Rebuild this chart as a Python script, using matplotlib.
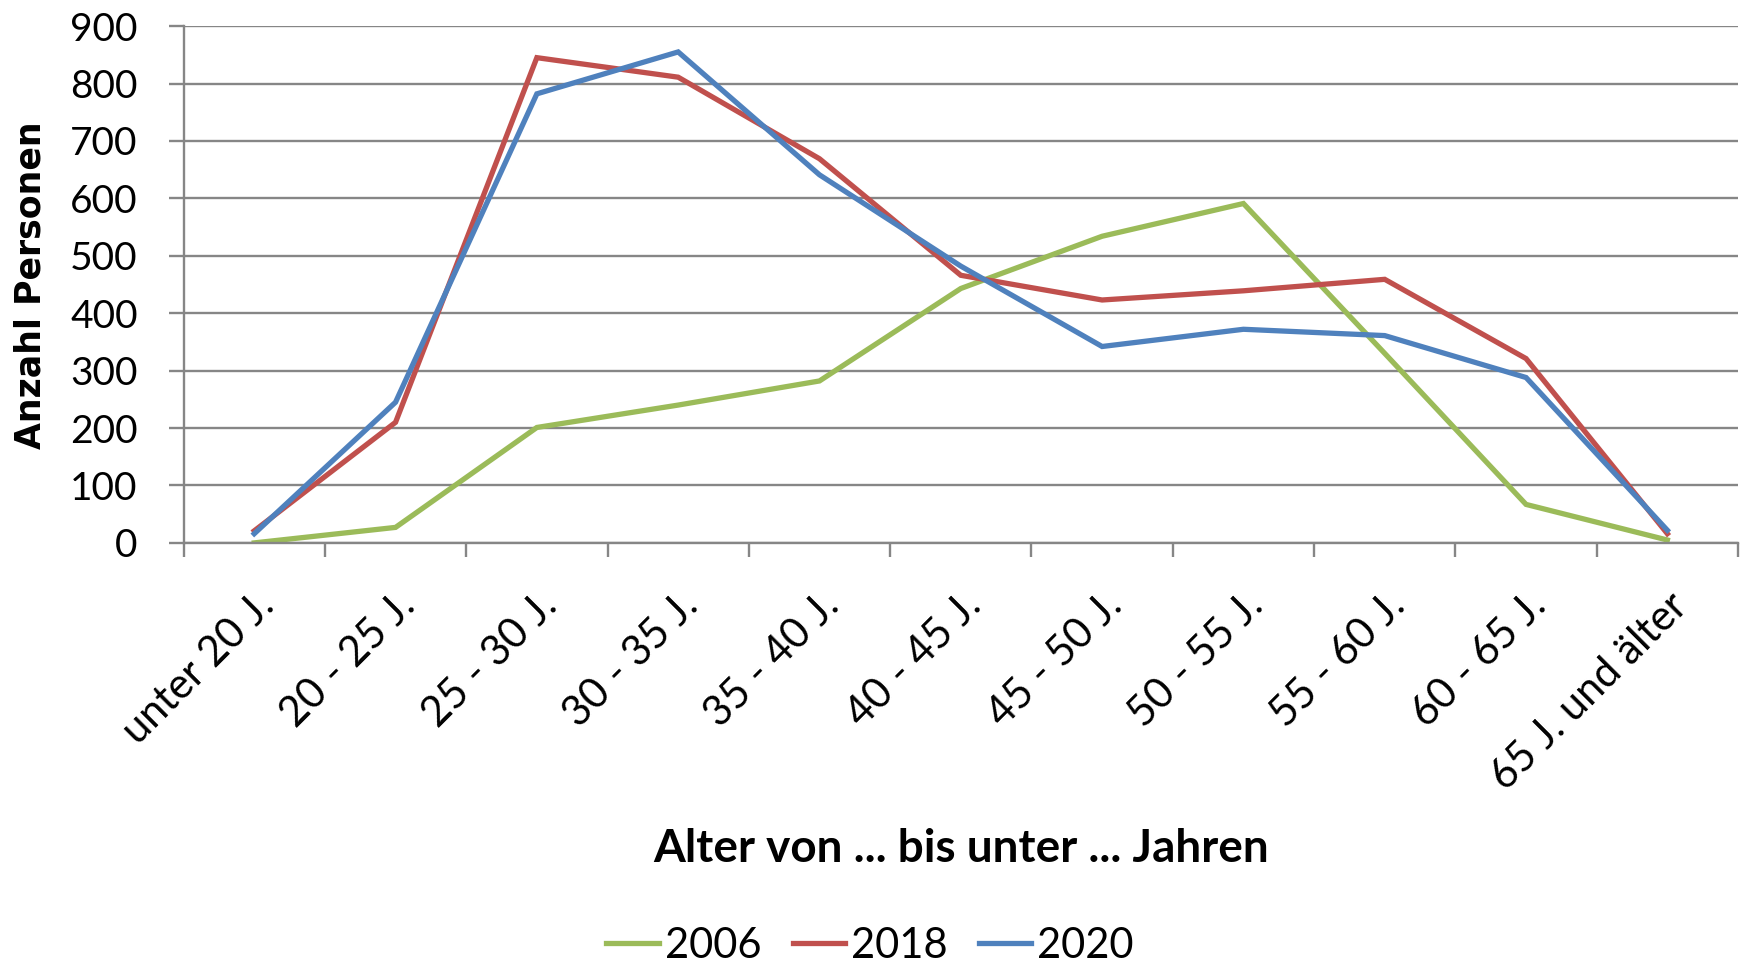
import matplotlib.pyplot as plt
import matplotlib.transforms as mtransforms
import numpy as np

categories = ["unter 20 J.", "20 - 25 J.", "25 - 30 J.", "30 - 35 J.", "35 - 40 J.",
              "40 - 45 J.", "45 - 50 J.", "50 - 55 J.", "55 - 60 J.", "60 - 65 J.",
              "65 J. und älter"]
years = ["2006", "2018", "2020"]
v2006 = [0, 27, 201, 240, 282, 443, 534, 591, 330, 67, 5]
v2018 = [21, 210, 845, 811, 669, 466, 423, 439, 459, 321, 16]
v2020 = [16, 245, 782, 855, 641, 482, 342, 372, 361, 288, 22]
colors = ["#9BBB59", "#C0504D", "#4F81BD"]

grid_c = "#868686"

fig = plt.figure(figsize=(17.45, 9.66), dpi=100)
ax = fig.add_axes([0.1052, 0.438, 0.996 - 0.1052, 0.973 - 0.438])

x = np.arange(len(categories))
for vals, name, c in zip([v2006, v2018, v2020], years, colors):
    ax.plot(x, vals, color=c, lw=3.8, label=name, solid_joinstyle="miter")

ax.set_xlim(-0.5, len(categories) - 0.5)
ax.set_ylim(0, 900)
ax.set_yticks(range(0, 901, 100))
ax.yaxis.grid(True, color=grid_c, lw=1.7)
ax.set_axisbelow(True)

# boundary ticks (no labels) and centred labels (no tick marks)
ax.set_xticks(np.arange(-0.5, len(categories)), minor=True)
ax.set_xticks(x)
ax.set_xticklabels(categories, rotation=45, ha="right", va="top",
                   rotation_mode="anchor", family="Lato", fontsize=30)
shift = mtransforms.ScaledTranslation(-14 / 100, 0, fig.dpi_scale_trans)
for lab in ax.get_xticklabels():
    lab.set_transform(lab.get_transform() + shift)
ax.tick_params(axis="x", which="major", length=0, pad=31)
ax.tick_params(axis="x", which="minor", length=10, width=1.7, color=grid_c)
ax.tick_params(axis="y", length=11, width=1.7, color=grid_c, pad=22)
for lab in ax.get_yticklabels():
    lab.set_family("Lato")
    lab.set_fontsize(28)

for s in ["top", "right"]:
    ax.spines[s].set_visible(False)
for s in ["left", "bottom"]:
    ax.spines[s].set_color(grid_c)
    ax.spines[s].set_linewidth(1.7)

fig.text(31 / 1745, 1 - 285 / 966, "Anzahl Personen", rotation=90, ha="center", va="center",
         family="DejaVu Sans", fontweight="bold", fontsize=25)
fig.text(961 / 1745, 1 - 849 / 966, "Alter von ... bis unter ... Jahren", ha="center", va="center",
         family="Lato", fontweight="bold", fontsize=33)

fig.legend(loc="center", bbox_to_anchor=(870 / 1745, 1 - 946 / 966), ncol=3, frameon=False,
           prop={"family": "Lato", "size": 30}, handlelength=1.25, handletextpad=0.15,
           columnspacing=0.75, borderaxespad=0)

fig.savefig("out.png", dpi=100)
